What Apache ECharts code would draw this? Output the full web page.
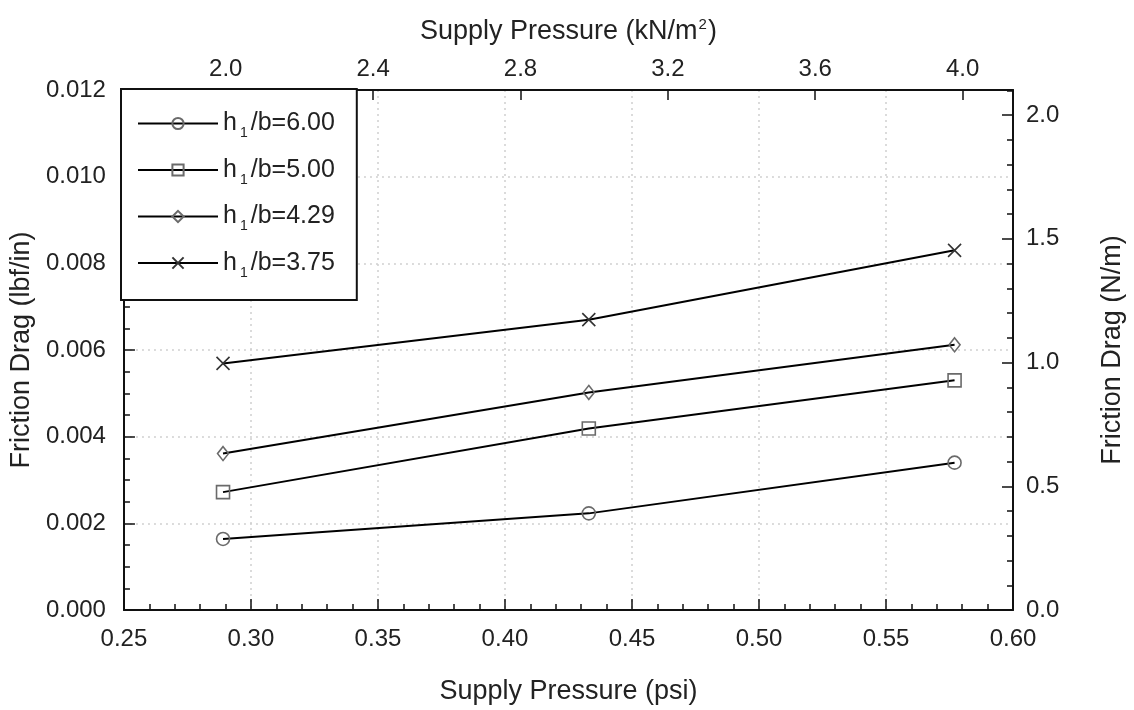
<!DOCTYPE html>
<html>
<head>
<meta charset="utf-8">
<script src="https://cdn.jsdelivr.net/npm/echarts@6/dist/echarts.min.js"></script>
<style>html,body{margin:0;padding:0;background:#fff;}#c{width:1134px;height:710px;}</style>
</head>
<body>
<div id="c"></div>
<script>
// Data
const xPsi = [0.289, 0.433, 0.577];
const seriesNames = ['6.00', '5.00', '4.29', '3.75'];
const h600 = [0.00164, 0.00223, 0.00340];
const h500 = [0.00272, 0.00419, 0.00530];
const h429 = [0.00361, 0.00502, 0.00612];
const h375 = [0.00569, 0.00670, 0.00830];
const topTicks = [2.0, 2.4, 2.8, 3.2, 3.6, 4.0];     // kN/m^2
const rightTicks = [0.0, 0.5, 1.0, 1.5, 2.0];        // N/m
const PSI_TO_KPA = 6.894757;
const LBFIN_TO_NM = 175.1268;

const chart = echarts.init(document.getElementById('c'));
const txt = '#222';
const FONT = 'Liberation Sans';
const crossPath = 'path://M0,0L10,10M10,0L0,10';
const symbols = ['circle', 'rect', 'diamond', crossPath];
const symSizes = [13, 13, [11, 14], 13];
const datas = [h600, h500, h429, h375];

const series = datas.map((d, i) => ({
  name: seriesNames[i],
  type: 'line',
  xAxisIndex: 0,
  yAxisIndex: 0,
  data: d.map((v, j) => [xPsi[j], v]),
  symbol: symbols[i],
  symbolSize: symSizes[i],
  showAllSymbol: true,
  lineStyle: { color: '#000', width: 2 },
  itemStyle: { color: 'rgba(255,255,255,0)', borderColor: i === 3 ? '#333' : '#6a6a6a', borderWidth: 1.6 },
  emphasis: { disabled: true },
  z: 3
}));

const tickStyle = { color: '#111', width: 1.5 };
const gridStyle = { color: '#d0d0d0', type: [2, 4], width: 1.5 };

const option = {
  animation: false,
  backgroundColor: '#fff',
  textStyle: { fontFamily: FONT, color: txt },
  grid: { left: 121, right: 121, top: 90, bottom: 98, containLabel: false },
  legend: {
    orient: 'vertical',
    left: 121, top: 89,
    padding: [22, 22, 20, 16],
    itemGap: 17,
    itemWidth: 80,
    itemHeight: 14,
    backgroundColor: '#fff',
    borderColor: '#111',
    borderWidth: 2,
    borderRadius: 0,
    z: 10,
    data: seriesNames,
    formatter: function (n) { return '{a|h}{s|1}{a|/b=' + n + '}'; },
    textStyle: {
      color: txt,
      rich: {
        a: { fontSize: 25, fontFamily: FONT, color: txt },
        s: { fontSize: 14, fontFamily: FONT, color: txt, padding: [20, 3, 0, 3] }
      }
    }
  },
  xAxis: [
    {
      type: 'value', position: 'bottom', min: 0.25, max: 0.60, interval: 0.05,
      name: 'Supply Pressure (psi)', nameLocation: 'middle', nameGap: 68,
      nameTextStyle: { fontSize: 27, fontFamily: FONT, color: txt },
      axisLine: { show: true, onZero: false, lineStyle: { color: '#111', width: 2 } },
      axisTick: { show: true, inside: true, length: 11, lineStyle: tickStyle },
      minorTick: { show: true, splitNumber: 5, length: 6, lineStyle: tickStyle },
      axisLabel: { fontSize: 24, fontFamily: FONT, color: txt, margin: 17,
        formatter: v => v.toFixed(2) },
      splitLine: { show: true, lineStyle: gridStyle }
    },
    {
      type: 'value', position: 'top', min: 0.25 * PSI_TO_KPA, max: 0.60 * PSI_TO_KPA,
      name: 'Supply Pressure (kN/m{sup|2})', nameLocation: 'middle', nameGap: 44,
      nameTextStyle: { fontSize: 27, fontFamily: FONT, color: txt,
        rich: { sup: { fontSize: 15, fontFamily: FONT, color: txt, padding: [0, 1, 14, 1] } } },
      axisLine: { show: true, onZero: false, lineStyle: { color: '#111', width: 2 } },
      axisTick: { show: true, inside: true, length: 10, customValues: topTicks, lineStyle: tickStyle },
      axisLabel: { fontSize: 24, fontFamily: FONT, color: txt, margin: 9,
        customValues: topTicks, formatter: v => v.toFixed(1) },
      splitLine: { show: false }
    }
  ],
  yAxis: [
    {
      type: 'value', position: 'left', min: 0, max: 0.012, interval: 0.002,
      name: 'Friction Drag (lbf/in)', nameLocation: 'middle', nameGap: 85, nameRotate: 90,
      nameTextStyle: { fontSize: 27, fontFamily: FONT, color: txt },
      axisLine: { show: true, onZero: false, lineStyle: { color: '#111', width: 2 } },
      axisTick: { show: true, inside: true, length: 11, lineStyle: tickStyle },
      minorTick: { show: true, splitNumber: 4, length: 6, lineStyle: tickStyle },
      axisLabel: { fontSize: 24, fontFamily: FONT, color: txt, margin: 18,
        formatter: v => v.toFixed(3) },
      splitLine: { show: true, lineStyle: gridStyle }
    },
    {
      type: 'value', position: 'right', min: 0, max: 0.012 * LBFIN_TO_NM, interval: 0.5,
      name: 'Friction Drag (N/m)', nameLocation: 'middle', nameGap: 86, nameRotate: 90,
      nameTextStyle: { fontSize: 27, fontFamily: FONT, color: txt },
      axisLine: { show: true, onZero: false, lineStyle: { color: '#111', width: 2 } },
      axisTick: { show: true, inside: true, length: 11, lineStyle: tickStyle },
      minorTick: { show: true, splitNumber: 5, length: 6, lineStyle: tickStyle },
      axisLabel: { fontSize: 24, fontFamily: FONT, color: txt, margin: 13,
        showMaxLabel: false,
        formatter: v => (rightTicks.some(t => Math.abs(t - v) < 1e-9) ? v.toFixed(1) : '') },
      splitLine: { show: false }
    }
  ],
  series: series
};
chart.setOption(option);
</script>
</body>
</html>
